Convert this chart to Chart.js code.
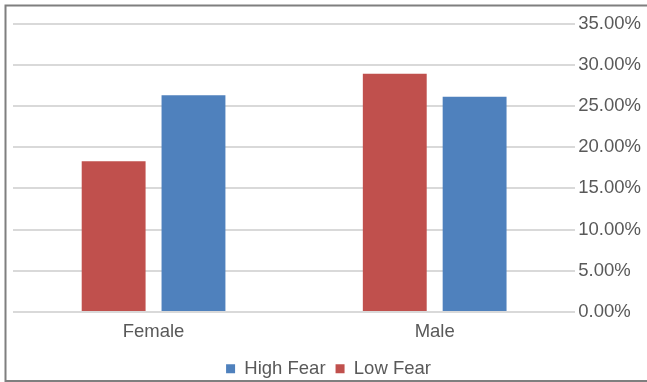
<!DOCTYPE html>
<html>
<head>
<meta charset="utf-8">
<script src="https://cdn.jsdelivr.net/npm/chart.js@4/dist/chart.umd.min.js"></script>
<style>
  html, body { margin: 0; padding: 0; background: #fff; }
  #wrap { position: relative; width: 647px; height: 382px; }
</style>
</head>
<body>
<div id="wrap"><canvas id="c" width="647" height="382"></canvas></div>
<script>
const categories = ["Female", "Male"];
const lowFear = [18.3, 28.9];
const highFear = [26.3, 26.1];
const yTicks = [0, 5, 10, 15, 20, 25, 30, 35];

const frame = {
  id: 'frame',
  afterDraw(chart) {
    const ctx = chart.ctx;
    ctx.save();
    ctx.strokeStyle = '#7f7f7f';
    ctx.lineWidth = 2;
    ctx.beginPath();
    ctx.moveTo(650, 5.5); ctx.lineTo(5.5, 5.5); ctx.lineTo(5.5, 381); ctx.lineTo(650, 381);
    ctx.stroke();
    ctx.restore();
  }
};

new Chart(document.getElementById('c'), {
  type: 'bar',
  data: {
    labels: categories,
    datasets: [
      { label: 'Low Fear', data: lowFear, backgroundColor: '#C0504D' },
      { label: 'High Fear', data: highFear, backgroundColor: '#4F81BD' }
    ]
  },
  options: {
    responsive: false,
    animation: false,
    devicePixelRatio: 1,
    layout: { padding: { left: 13, right: 3, top: 23.5, bottom: -6 } },
    datasets: { bar: { categoryPercentage: 0.568, barPercentage: 0.8 } },
    scales: {
      x: {
        grid: { display: false, drawTicks: false },
        border: { display: false },
        afterFit(axis) { axis.height = 37.5; },
        ticks: { color: '#595959', font: { family: 'Liberation Sans, Arial', size: 18.5 }, padding: 9 }
      },
      y: {
        position: 'right',
        min: 0, max: 35,
        afterBuildTicks(axis) { axis.ticks = yTicks.map(v => ({ value: v })); },
        grid: { color: '#d9d9d9', lineWidth: 2, drawTicks: false },
        border: { display: false },
        ticks: {
          color: '#595959',
          font: { family: 'Liberation Sans, Arial', size: 18.5 },
          padding: 3,
          callback: v => v.toFixed(2) + '%'
        }
      }
    },
    plugins: {
      legend: {
        position: 'bottom',
        reverse: true,
        labels: {
          boxWidth: 9, boxHeight: 9, padding: 10,
          color: '#595959',
          font: { family: 'Liberation Sans, Arial', size: 18.5 }
        }
      },
      tooltip: { enabled: false }
    }
  },
  plugins: [frame]
});
</script>
</body>
</html>
